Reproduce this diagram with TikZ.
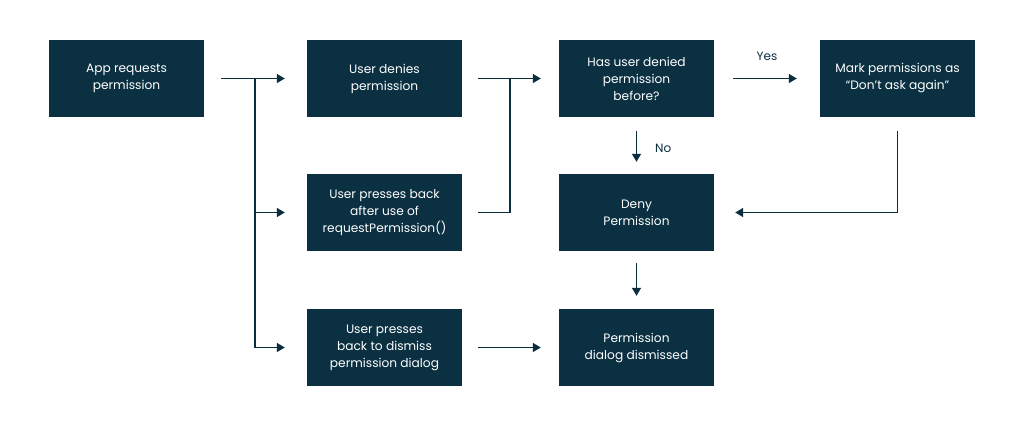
\documentclass[tikz,border=0pt]{standalone}
\usepackage{fontspec}
\setmainfont{Poppins}
\usetikzlibrary{arrows.meta}
\definecolor{navy}{HTML}{0A3042}
\definecolor{linec}{HTML}{0B2E3F}
\tikzset{
  box/.style={fill=navy, draw=none, minimum width=155pt, minimum height=77pt,
    inner sep=0pt, align=center, text=white, font=\fontsize{12.2}{17}\selectfont},
  conn/.style={draw=linec, line width=1.4pt, -{Triangle[length=8pt,width=9pt]}},
  plain/.style={draw=linec, line width=1.4pt},
  lbl/.style={text=linec, font=\fontsize{12}{14}\selectfont, inner sep=0pt}
}
\begin{document}
\begin{tikzpicture}[x=1pt,y=-1pt]
\useasboundingbox[fill=white] (0,0) rectangle (1024,426);
\node[box] (app) at (126.5,78.5) {App requests\\permission};
\node[box] (deny) at (384.5,78.5) {User denies\\permission};
\node[box] (has) at (636.5,78.5) {Has user denied\\permission\\before?};
\node[box] (mark) at (897.5,78.5) {Mark permissions as\\“Don’t ask again”};
\node[box] (back) at (384.5,212.5) {User presses back\\after use of\\requestPermission()};
\node[box] (denyp) at (636.5,212.5) {Deny\\Permission};
\node[box] (dism) at (384.5,347.5) {User presses\\back to dismiss\\permission dialog};
\node[box] (dlg) at (636.5,347.5) {Permission\\dialog dismissed};
% junction coordinates
\coordinate (j1) at (255,78.5);
\coordinate (j1b) at (255,212.5);
\coordinate (j1c) at (255,347.5);
\coordinate (j2) at (510,78.5);
\coordinate (j2b) at (510,212.5);
\coordinate (j3) at (897.5,212.5);
% from app
\draw[plain, shorten <=17pt] (app.east) -- (j1);
\draw[conn, shorten >=22pt] (j1) -- (deny.west);
\draw[plain] (j1) -- (j1c);
\draw[conn, shorten >=22pt] (j1b) -- (back.west);
\draw[conn, shorten >=22pt] (j1c) -- (dism.west);
% to has
\draw[plain, shorten <=16pt] (deny.east) -- (j2);
\draw[conn, shorten >=18pt] (j2) -- (has.west);
\draw[plain, shorten <=16pt] (back.east) -- (j2b) -- (j2);
% yes
\draw[conn, shorten <=19pt, shorten >=23pt] (has.east) -- node[lbl, above=17pt, pos=0.5] (yes) {Yes} (mark.west);
% no
\draw[conn, shorten <=14pt, shorten >=12pt] (has.south) -- (denyp.north);
\node[lbl, anchor=west] (no) at (655,148) {No};
% mark to denyp
\draw[plain, shorten <=14pt] (mark.south) -- (j3);
\draw[conn, shorten >=21pt] (j3) -- (denyp.east);
% denyp to dlg
\draw[conn, shorten <=12pt, shorten >=13pt] (denyp.south) -- (dlg.north);
% dism to dlg
\draw[conn, shorten <=16pt, shorten >=18pt] (dism.east) -- (dlg.west);
\end{tikzpicture}
\end{document}
